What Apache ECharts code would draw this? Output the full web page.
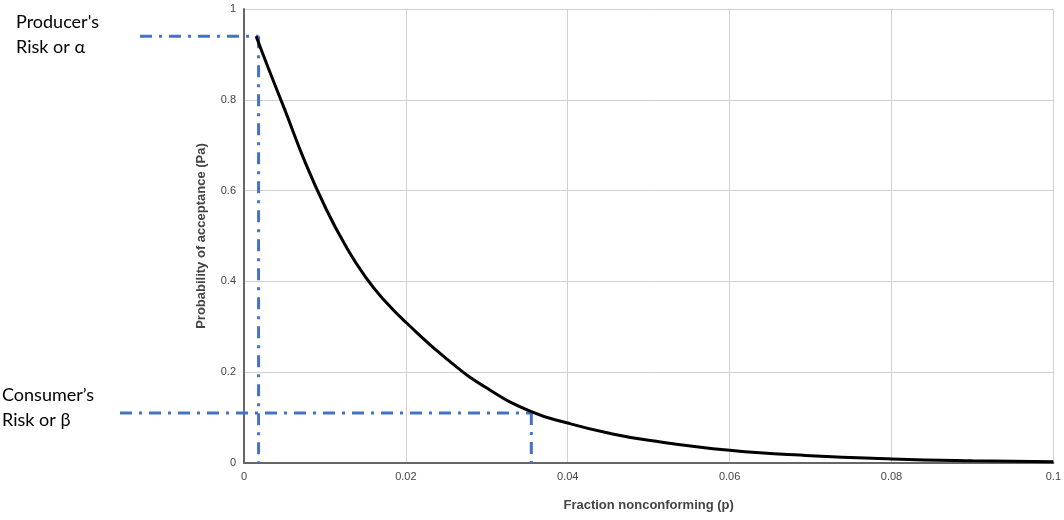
<!DOCTYPE html>
<html><head><meta charset="utf-8">
<script src="https://cdn.jsdelivr.net/npm/echarts@6/dist/echarts.min.js"></script>
<style>html,body{margin:0;background:#fff}#c{width:1064px;height:520px}</style>
</head><body><div id="c"></div>
<script>
const pValues = [0.0015,0.003,0.005,0.0075,0.01,0.0125,0.015,0.0175,0.02,0.025,0.03,0.0355,0.04,0.045,0.05,0.06,0.07,0.08,0.09,0.1];
const paValues = [0.94,0.87,0.78,0.665,0.565,0.48,0.41,0.355,0.31,0.23,0.165,0.113,0.088,0.066,0.05,0.028,0.016,0.009,0.005,0.003];
const producerRisk = [[0.0018,0.94],[0.0018,0]];
const consumerRisk = [[0.0355,0.11],[0.0355,0]];
const xTicks = [0,0.02,0.04,0.06,0.08,0.1];

const chart = echarts.init(document.getElementById('c'));
const dash = {stroke:'#4472c4',lineWidth:3,lineDash:[12,7,3,7]};
chart.setOption({
  animation:false,
  grid:{left:244,right:6,top:9,bottom:57},
  xAxis:{type:'value',min:0,max:0.1,interval:0.02,
    name:'Fraction nonconforming (p)',nameLocation:'middle',nameGap:36,
    nameTextStyle:{fontFamily:'Liberation Sans',fontWeight:'bold',fontSize:13,color:'#444'},
    axisLine:{lineStyle:{color:'#666',width:2}},axisTick:{show:false},
    axisLabel:{fontFamily:'Liberation Sans',fontSize:11,color:'#444',formatter:v=>String(+v.toFixed(2))},
    splitLine:{lineStyle:{color:'#d0d0d0'}}},
  yAxis:{type:'value',min:0,max:1,interval:0.2,
    name:'Probability of acceptance (Pa)',nameLocation:'middle',nameGap:36,
    nameTextStyle:{fontFamily:'Liberation Sans',fontWeight:'bold',fontSize:13,color:'#444'},
    axisLine:{show:true,lineStyle:{color:'#666',width:2}},axisTick:{show:false},
    axisLabel:{fontFamily:'Liberation Sans',fontSize:11,color:'#444',formatter:v=>String(+v.toFixed(1))},
    splitLine:{lineStyle:{color:'#d0d0d0'}}},
  series:[
    {type:'line',data:pValues.map((p,i)=>[p,paValues[i]]),smooth:0.5,showSymbol:false,lineStyle:{color:'#000',width:3},z:3}
  ]
});
function seg(pts, startX){
  const a = chart.convertToPixel({gridIndex:0}, pts[0]);
  const b = chart.convertToPixel({gridIndex:0}, pts[1]);
  return [
    {type:'line',shape:{x1:startX,y1:a[1],x2:a[0],y2:a[1]},style:dash,z:2},
    {type:'line',shape:{x1:a[0],y1:a[1],x2:b[0],y2:b[1]},style:dash,z:2}
  ];
}
chart.setOption({graphic:[
  ...seg(producerRisk,140),
  ...seg(consumerRisk,120),
  {type:'text',left:16,top:10,style:{text:"Producer's\nRisk or α",font:'18px Lato',lineHeight:25,fill:'#000'}},
  {type:'text',left:2,top:383,style:{text:"Consumer’s\nRisk or β",font:'18px Lato',lineHeight:25,fill:'#000'}}
]});
</script></body></html>
